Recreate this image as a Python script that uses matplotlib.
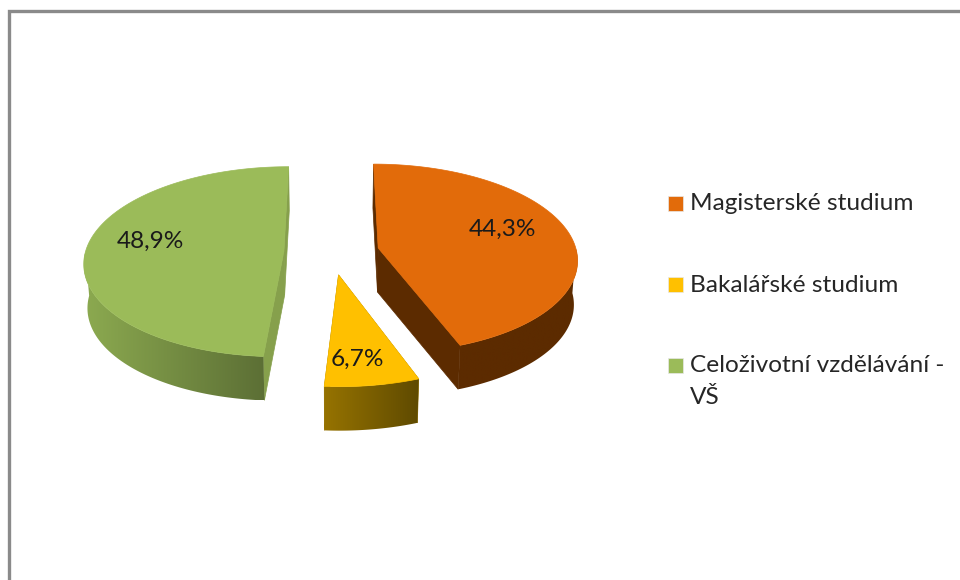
import matplotlib
matplotlib.use('Agg')
import matplotlib.pyplot as plt
import numpy as np
from matplotlib.colors import LinearSegmentedColormap
from matplotlib.patches import Polygon, Rectangle

# data
categories = ['Magisterské studium', 'Bakalářské studium', 'Celoživotní vzdělávání -\nVŠ']
values = [44.3, 6.7, 48.9]
value_labels = ['44,3%', '6,7%', '48,9%']

# styles
top_colors = ['#E26B0A', '#FFC000', '#9BBB59']
wall_colors = [('#5C2B00', '#5C2B00'), ('#967300', '#5F4A00'), ('#8CAA50', '#5C6F35')]
cut_colors = ['#5C2B00', '#967300', '#86A04C']
label_xy = [(503, 229), (357, 359), (150, 241)]
legend_y = [203, 284, 365]
text_color = '#262626'
font_size = 17.6

# projection of the tilted pie, in picture pixels
X0, Y0 = 331.5, 252
RX, RY = 198.5, 94
PERSP = 0.11
EXPLODE = 0.24
DEPTH = 44
BOTTOM_SCALE = 0.985


def project(u, v, lower=False):
    w = 1 + PERSP * v
    k = BOTTOM_SCALE if lower else 1.0
    return X0 + k * RX * u / w, Y0 - RY * v / w + (DEPTH if lower else 0)


fig = plt.figure(figsize=(9.6, 5.8), dpi=100, facecolor='white')
ax = fig.add_axes([0, 0, 1, 1])
ax.set_xlim(0, 960)
ax.set_ylim(580, 0)
ax.axis('off')

# chart frame, runs off the right and bottom of the picture
ax.plot([8.5, 8.5, 960], [580, 11, 11], color='#8A8A8A', lw=2.4, solid_joinstyle='miter', zorder=1)

total = sum(values)
start = 90.0
for i, val in enumerate(values):
    sweep = 360.0 * val / total
    end = start - sweep
    mid = np.radians((start + end) / 2)
    cu, cv = EXPLODE * np.cos(mid), EXPLODE * np.sin(mid)
    ang = np.radians(np.linspace(start, end, 200))
    ru, rv = cu + np.cos(ang), cv + np.sin(ang)

    # the two cut faces
    for a in (ang[0], ang[-1]):
        eu, ev = cu + np.cos(a), cv + np.sin(a)
        p1 = project(eu, ev)
        p2 = project(cu, cv)
        p3 = project(cu, cv, True)
        p4 = project(eu, ev, True)
        ax.add_patch(Polygon([p1, p2, p3, p4], closed=True, fc=cut_colors[i], ec=cut_colors[i], lw=0.5, zorder=2))

    # outer wall, only the part facing the viewer, shaded from left to right
    front = np.sin(ang) <= 0
    sx, sy = project(ru[front], rv[front])
    bx, by = project(ru[front], rv[front], True)
    wall = np.column_stack([np.r_[sx, bx[::-1]], np.r_[sy, by[::-1]]])
    poly = Polygon(wall, closed=True, fc='none', ec='none', zorder=3)
    ax.add_patch(poly)
    cmap = LinearSegmentedColormap.from_list('wall%d' % i, wall_colors[i])
    im = ax.imshow(np.linspace(0, 1, 256).reshape(1, -1), cmap=cmap, aspect='auto', zorder=3,
                   extent=[wall[:, 0].min(), wall[:, 0].max(), wall[:, 1].max(), wall[:, 1].min()])
    im.set_clip_path(poly)

    # top face
    tx, ty = project(ru, rv)
    ax_, ay_ = project(cu, cv)
    top = np.column_stack([np.r_[ax_, tx], np.r_[ay_, ty]])
    ax.add_patch(Polygon(top, closed=True, fc=top_colors[i], ec=top_colors[i], lw=0.5, zorder=4))

    ax.text(label_xy[i][0], label_xy[i][1], value_labels[i], ha='center', va='center',
            family='Lato', fontsize=font_size, color='#1A1A1A', zorder=5)
    start = end

# legend
for name, col, y in zip(categories, top_colors, legend_y):
    ax.add_patch(Rectangle((668, y - 7), 14.5, 14.5, fc=col, ec='#E8E8E8', lw=0.5, zorder=4))
    ax.text(690, y + 1, name.split('\n')[0], ha='left', va='center', family='Lato', fontsize=font_size, color=text_color)
    if '\n' in name:
        ax.text(690, y + 33, name.split('\n')[1], ha='left', va='center', family='Lato', fontsize=font_size, color=text_color)

ax.set_xlim(0, 960)
ax.set_ylim(580, 0)
fig.savefig('out.png', dpi=100)
